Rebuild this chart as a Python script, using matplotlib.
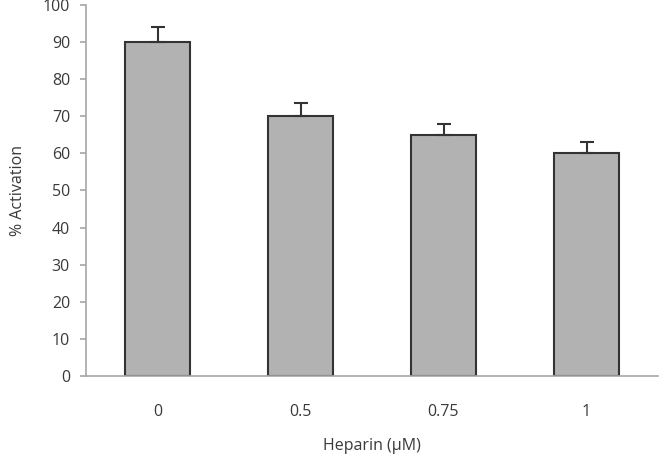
import matplotlib.pyplot as plt

# Данные
categories = ["0", "0.5", "0.75", "1"]
activation = [90, 70, 65, 60]
errors = [4, 3.5, 3, 3]

text_color = "#3a3a3a"
plt.rcParams['font.family'] = ['Open Sans', 'DejaVu Sans']

fig = plt.figure(figsize=(6.61, 4.61), dpi=100)
ax = fig.add_axes([86 / 661, 1 - 376 / 461, (658 - 86) / 661, (376 - 5) / 461])

x = range(len(categories))
ax.bar(x, activation, width=0.45, color="#b2b2b2", edgecolor="#333333", linewidth=1.5, zorder=2)
ax.errorbar(x, activation, yerr=[[0] * len(errors), errors], fmt="none",
            ecolor="#333333", elinewidth=1.5, capsize=5, capthick=1.5, zorder=3)

ax.set_xlim(-0.5, len(categories) - 0.5)
ax.set_ylim(0, 100)
ax.set_yticks(range(0, 101, 10))
ax.set_xticks(list(x))
ax.set_xticklabels(categories)

for side in ["top", "right"]:
    ax.spines[side].set_visible(False)
for side in ["left", "bottom"]:
    ax.spines[side].set_color("#a6a6a6")
    ax.spines[side].set_linewidth(1.2)

ax.tick_params(axis="y", length=4.5, color="#a6a6a6", width=1.2, labelsize=11.5,
               labelcolor=text_color, pad=7)
ax.tick_params(axis="x", length=0, labelsize=11.5, labelcolor=text_color, pad=20)

ax.set_xlabel("Heparin (μM)", fontsize=11.5, color=text_color, labelpad=13)
ax.set_ylabel("% Activation", fontsize=11.5, color=text_color, labelpad=12)

plt.savefig("out.png")
